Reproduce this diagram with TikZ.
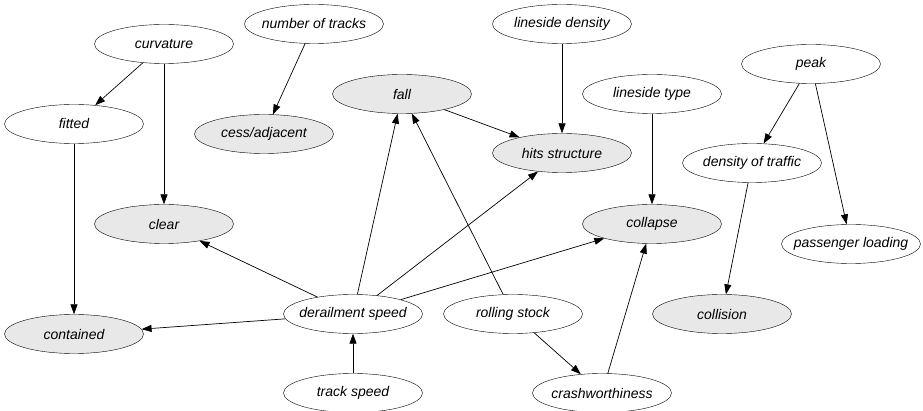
\documentclass[tikz,border=0pt]{standalone}
\usepackage{fontspec}
\setmainfont{Liberation Sans}
\usetikzlibrary{shapes.geometric,arrows.meta}
\begin{document}
\begin{tikzpicture}[
        x=1pt, y=-1pt,
        every node/.style={draw, ellipse, minimum width=139pt, minimum height=39pt,
            inner sep=0pt, thin, font=\fontsize{14}{16}\selectfont\itshape,
            execute at begin node=\hbox to 0pt\bgroup\hss,
            execute at end node=\hss\egroup},
        outcome/.style={fill=black!9},
        link/.style={-{Triangle[length=10pt,width=7pt]}, line width=0.7pt},
    ]
    \useasboundingbox (0,0) rectangle (923,411);
    \node (curvature) at (164,44) {curvature};
    \node (tracks) at (314,24) {number of tracks};
    \node (linedensity) at (562,24) {lineside density};
    \node (peak) at (811,64) {peak};
    \node[outcome] (fall) at (402,94) {fall};
    \node (linetype) at (652,94) {lineside type};
    \node (fitted) at (74,124) {fitted};
    \node[outcome] (cess) at (264,134) {cess/adjacent};
    \node[outcome] (hits) at (562,153) {hits structure};
    \node (traffic) at (752,163) {density of traffic};
    \node[outcome] (clear) at (164,224) {clear};
    \node[outcome] (collapse) at (652,224) {collapse};
    \node (loading) at (851,244) {passenger loading};
    \node (derail) at (353,314) {derailment speed};
    \node (rolling) at (513,314) {rolling stock};
    \node[outcome] (collision) at (722,314) {collision};
    \node[outcome] (contained) at (74,334) {contained};
    \node (trackspeed) at (353,393) {track speed};
    \node (crash) at (602,393) {crashworthiness};

    \draw[link] (curvature) -- (fitted);
    \draw[link] (curvature) -- (clear);
    \draw[link] (tracks) -- (cess);
    \draw[link] (linedensity) -- (hits);
    \draw[link] (fall) -- (hits);
    \draw[link] (linetype) -- (collapse);
    \draw[link] (peak) -- (traffic);
    \draw[link] (peak) -- (loading);
    \draw[link] (traffic) -- (collision);
    \draw[link] (fitted) -- (contained);
    \draw[link] (derail) -- (clear);
    \draw[link] (derail) -- (contained);
    \draw[link] (derail) -- (fall);
    \draw[link] (derail) -- (hits);
    \draw[link] (derail) -- (collapse);
    \draw[link] (rolling) -- (fall);
    \draw[link] (rolling) -- (crash);
    \draw[link] (crash) -- (collapse);
    \draw[link] (trackspeed) -- (derail);
\end{tikzpicture}
\end{document}
